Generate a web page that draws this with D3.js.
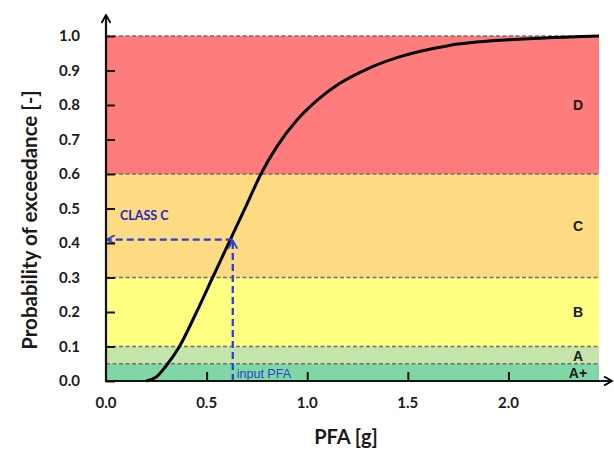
<!DOCTYPE html>
<html>
<head>
<meta charset="utf-8">
<script src="https://cdn.jsdelivr.net/npm/d3@7"></script>
<style>
  body { margin: 0; background: #fff; }
  text { font-family: Lato, "Open Sans", sans-serif; }
</style>
</head>
<body>
<svg id="mainsvg" width="614" height="452"></svg>
<script>
// class bands (probability ranges)
const bandNames = ['A+', 'A', 'B', 'C', 'D'];
const bandLow = [0, 0.05, 0.1, 0.3, 0.6];
const bandHigh = [0.05, 0.1, 0.3, 0.6, 1.0];
const bandColors = ['#7fd7a5', '#c4e4aa', '#ffff82', '#fddb82', '#ff7c7c'];
const bandLabelY = [0.022, 0.072, 0.2, 0.45, 0.8];

// fragility curve
const pfa = [0.20, 0.25, 0.30, 0.365, 0.45, 0.53, 0.63, 0.70, 0.77, 0.85, 0.95, 1.05, 1.16, 1.30, 1.45, 1.70, 2.00, 2.20, 2.45];
const prob = [0.0, 0.012, 0.045, 0.10, 0.20, 0.30, 0.425, 0.512, 0.60, 0.68, 0.757, 0.814, 0.862, 0.905, 0.938, 0.972, 0.989, 0.995, 1.0];

const xTicks = [0.0, 0.5, 1.0, 1.5, 2.0];
const yTicks = [0.0, 0.1, 0.2, 0.3, 0.4, 0.5, 0.6, 0.7, 0.8, 0.9, 1.0];

const inputPFA = 0.63;
const inputProb = 0.41;

const svg = d3.select('#mainsvg');
const margin = { top: 36, right: 15, bottom: 71, left: 106 };

const x = d3.scaleLinear().domain([0, 2.45]).range([margin.left, 599]);
const y = d3.scaleLinear().domain([0, 1]).range([381, margin.top]);

const defs = svg.append('defs');
const arrow = (id, color) => defs.append('marker')
  .attr('id', id)
  .attr('viewBox', '0 0 10 10')
  .attr('refX', 9).attr('refY', 5)
  .attr('markerWidth', 10).attr('markerHeight', 10)
  .attr('markerUnits', 'userSpaceOnUse')
  .attr('orient', 'auto')
  .append('path')
  .attr('d', 'M1,0.5 L9,5 L1,9.5')
  .attr('fill', 'none')
  .attr('stroke', color)
  .attr('stroke-width', 1.8);
arrow('arrBlack', '#000');
arrow('arrBlue', '#2a3fd6');

// bands
svg.selectAll('rect.band')
  .data(bandNames)
  .join('rect')
  .attr('class', 'band')
  .attr('x', x(0))
  .attr('width', x(2.45) - x(0))
  .attr('y', (d, i) => y(bandHigh[i]))
  .attr('height', (d, i) => y(bandLow[i]) - y(bandHigh[i]))
  .attr('fill', (d, i) => bandColors[i]);

// dashed boundaries
svg.selectAll('line.bound')
  .data(bandHigh)
  .join('line')
  .attr('class', 'bound')
  .attr('x1', x(0)).attr('x2', x(2.45))
  .attr('y1', d => y(d)).attr('y2', d => y(d))
  .attr('stroke', '#6e6e6e')
  .attr('stroke-width', 1.3)
  .attr('stroke-dasharray', '4,2.5');

// class labels
svg.selectAll('text.cls')
  .data(bandNames)
  .join('text')
  .attr('class', 'cls')
  .attr('x', 578)
  .attr('y', (d, i) => y(bandLabelY[i]))
  .attr('dy', '0.36em')
  .attr('text-anchor', 'middle')
  .style('font-family', '"Liberation Sans", Arial, sans-serif')
  .style('font-weight', 'bold')
  .style('font-size', '14px')
  .attr('fill', '#1a1a1a')
  .text(d => d);

// curve
const pts = pfa.map((v, i) => [v, prob[i]]);
svg.append('path')
  .datum(pts)
  .attr('fill', 'none')
  .attr('stroke', '#000')
  .attr('stroke-width', 3)
  .attr('d', d3.line().x(d => x(d[0])).y(d => y(d[1])).curve(d3.curveMonotoneX));

// input PFA arrows
svg.append('line')
  .attr('x1', x(inputPFA)).attr('x2', x(inputPFA))
  .attr('y1', y(0)).attr('y2', y(inputProb) + 1)
  .attr('stroke', '#2a3fd6').attr('stroke-width', 2.3)
  .attr('stroke-dasharray', '7,4')
  .attr('marker-end', 'url(#arrBlue)');
svg.append('line')
  .attr('x1', x(inputPFA)).attr('x2', x(0) + 1)
  .attr('y1', y(inputProb)).attr('y2', y(inputProb))
  .attr('stroke', '#2a3fd6').attr('stroke-width', 2.3)
  .attr('stroke-dasharray', '7,4')
  .attr('marker-end', 'url(#arrBlue)');

svg.append('text')
  .attr('x', 120).attr('y', 220)
  .style('font-family', 'Lato, sans-serif')
  .style('font-weight', 'bold')
  .style('font-size', '12.5px')
  .attr('fill', '#2424c8')
  .text('CLASS C');
svg.append('text')
  .attr('x', x(inputPFA) + 4).attr('y', 378)
  .style('font-family', '"Liberation Sans", Arial, sans-serif')
  .style('font-size', '12.5px')
  .attr('fill', '#2a3fd6')
  .text('input PFA');

// axes
const xAxis = svg.append('g')
  .attr('transform', `translate(0,${y(0)})`)
  .call(d3.axisTop(x).tickValues(xTicks.slice(1)).tickSize(9).tickFormat(''));
xAxis.select('.domain').remove();
xAxis.selectAll('line').attr('stroke', '#111').attr('stroke-width', 2);

const yAxis = svg.append('g')
  .attr('transform', `translate(${x(0)},0)`)
  .call(d3.axisRight(y).tickValues(yTicks).tickSize(9).tickFormat(''));
yAxis.select('.domain').remove();
yAxis.selectAll('line').attr('stroke', '#111').attr('stroke-width', 2);

svg.append('line')
  .attr('x1', x(0) - 1).attr('x2', 612)
  .attr('y1', y(0)).attr('y2', y(0))
  .attr('stroke', '#111').attr('stroke-width', 2.2)
  .attr('marker-end', 'url(#arrBlack)');
svg.append('line')
  .attr('x1', x(0)).attr('x2', x(0))
  .attr('y1', y(0) + 1).attr('y2', 15)
  .attr('stroke', '#111').attr('stroke-width', 2.2)
  .attr('marker-end', 'url(#arrBlack)');

// tick labels
svg.selectAll('text.ytl')
  .data(yTicks)
  .join('text')
  .attr('class', 'ytl')
  .attr('x', 80)
  .attr('y', d => y(d))
  .attr('dy', '0.35em')
  .attr('text-anchor', 'end')
  .style('font-weight', 'bold')
  .style('font-size', '15px')
  .attr('fill', '#1a1a1a')
  .text(d => d.toFixed(1));

svg.selectAll('text.xtl')
  .data(xTicks)
  .join('text')
  .attr('class', 'xtl')
  .attr('x', d => x(d))
  .attr('y', 408)
  .attr('text-anchor', 'middle')
  .style('font-weight', 'bold')
  .style('font-size', '15px')
  .attr('fill', '#1a1a1a')
  .text(d => d.toFixed(1));

// titles
svg.append('text')
  .attr('transform', 'translate(37,220) rotate(-90)')
  .attr('text-anchor', 'middle')
  .style('font-weight', 'bold')
  .style('font-size', '20.5px')
  .attr('fill', '#1a1a1a')
  .text('Probability of exceedance [-]');

svg.append('text')
  .attr('x', 346).attr('y', 444)
  .attr('text-anchor', 'middle')
  .style('font-weight', 'bold')
  .style('font-size', '20px')
  .attr('fill', '#1a1a1a')
  .text('PFA [g]');
</script>
</body>
</html>
